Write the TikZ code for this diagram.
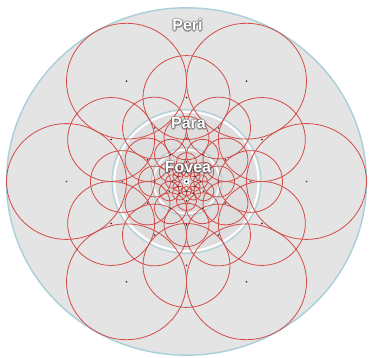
\documentclass[tikz,border=0pt]{standalone}
\usepackage{fontspec}
\setmainfont{Liberation Sans}
\definecolor{perifill}{HTML}{E4E4E4}
\definecolor{parafill}{HTML}{DEDEDE}
\definecolor{fovfill}{HTML}{D9D9D9}
\definecolor{edgeblue}{HTML}{A9CFD8}
\definecolor{ringred}{HTML}{D24C48}
\definecolor{dotgray}{HTML}{3A3A3A}
\tikzset{
  field/.style={draw=ringred, line width=0.8pt},
  centredot/.style={fill=dotgray},
  zonelabel/.style={text=white, font=\bfseries\fontsize{16}{16}\selectfont, anchor=base, inner sep=0pt},
  zoneshadow/.style={text=black!70, opacity=0.3, font=\bfseries\fontsize{16}{16}\selectfont, anchor=base, inner sep=0pt},
}
\newcommand{\zonetext}[3]{%
  \foreach \dx/\dy in {0.9/0.9,-0.7/0.7,0.7/-0.7,-0.7/-0.7,0/1.3,1.3/0,-1.1/0,0/-1.1}{
    \node[zoneshadow] at (#1+\dx,#2+\dy) {#3};
  }
  \node[zonelabel] (lbl#3) at (#1,#2) {#3};
}
\begin{document}
\begin{tikzpicture}[x=1pt,y=-1pt]
\useasboundingbox (0,0) rectangle (370,358);
\fill[white] (0,0) rectangle (370,358);
\begin{scope}[shift={(186.5,181.5)}, yscale=0.965]
  % zones
  \fill[perifill] (0,0) circle (180);
  \draw[edgeblue, line width=1.4pt] (0,0) circle (180);
  \fill[parafill] (0,0) circle (72);
  \fill[fovfill] (0,0) circle (33);
  \draw[edgeblue, line width=1pt] (0,0) circle (74.5);
  \draw[white, line width=1.8pt] (0,0) circle (72);
  \draw[edgeblue, line width=1pt] (0,0) circle (35.3);
  \draw[white, line width=1.6pt] (0,0) circle (33);
  % receptive fields
  \foreach \d/\o in {120/0,87/30,64/0,45/30,32/0,20/30,14/0,10/30}{
    \foreach \i in {0,...,5}{
      \draw[field] ({\o+60*\i}:\d) circle ({\d/2});
    }
  }
  \foreach \d/\o in {120/0,87/30,64/0,45/30,32/0,20/30,14/0,10/30}{
    \foreach \i in {0,...,5}{
      \fill[centredot] ({\o+60*\i}:\d) circle (1.0);
    }
  }
  % centre
  \fill[white, draw=black!40, line width=0.4pt] (0,0) circle (3.6);
  \fill[black] (0,0) circle (1.1);
\end{scope}
\zonetext{187.5}{31}{Peri}
\zonetext{188.5}{129}{Para}
\zonetext{188}{173}{Fovea}
\end{tikzpicture}
\end{document}
